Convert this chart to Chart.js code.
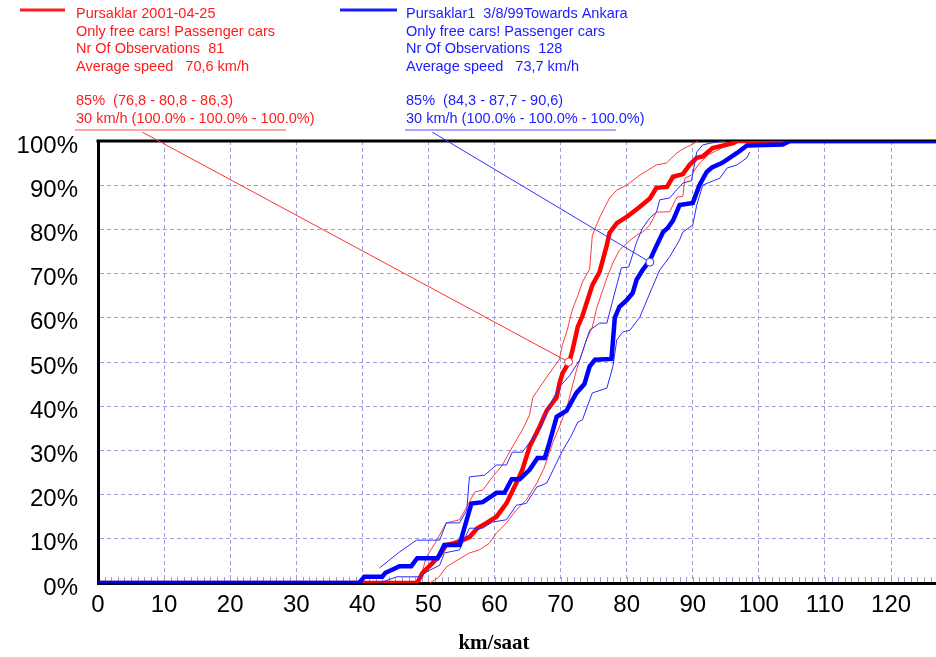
<!DOCTYPE html>
<html>
<head>
<meta charset="utf-8">
<script src="https://cdn.jsdelivr.net/npm/chart.js@4.4.1/dist/chart.umd.min.js"></script>
<style>
  html, body { margin: 0; padding: 0; background: #fff; }
  #wrap { width: 936px; height: 657px; }
</style>
</head>
<body>
<div id="wrap"><canvas id="speedChart" width="936" height="657"></canvas></div>
<script>
// cumulative speed distributions, km/h vs % of observations
const redMainKmh = [0, 48.3, 49.1, 50.6, 51.7, 52.7, 53.9, 55.2, 56.2, 57.4, 58.8, 60.3, 61.8, 63.3, 64.2, 65.3, 66.8, 67.9, 69.4, 69.8, 70.3, 70.9, 71.4, 71.8, 72.6, 73.3, 74.8, 75.9, 77.0, 77.4, 78.5, 80.0, 81.9, 83.5, 84.5, 86.1, 87.0, 88.5, 89.5, 90.6, 91.5, 93.0, 96.1, 96.7, 127];
const redMainPct = [0, 0, 2.3, 4.5, 6.3, 8.6, 9, 9.7, 10.4, 12.4, 13.6, 15, 18, 22.6, 25.6, 30.8, 35.3, 39, 42, 45, 47.5, 49, 50.5, 52.7, 58, 60.4, 67.4, 70.4, 76.5, 79.2, 81.4, 82.8, 85, 87, 89.4, 89.6, 91.9, 92.5, 94.6, 96.2, 96.5, 98.4, 99.5, 100, 100];

const redHighKmh = [48.6, 49.0, 49.7, 51.0, 52.7, 54.7, 55.8, 57.0, 58.2, 59.7, 61.2, 62.7, 64.2, 65.3, 65.8, 67.9, 69.8, 70.3, 71.0, 71.8, 72.6, 73.3, 74.4, 74.8, 76.0, 77.4, 78.5, 80.0, 82.0, 84.5, 86.0, 87.6, 88.5, 90.0, 90.8];
const redHighPct = [1.2, 2.3, 5.9, 9, 13.6, 14.3, 17.2, 20.6, 21, 24, 26.7, 30.8, 34.6, 38, 42, 46.6, 50.5, 54, 57.2, 62, 65, 68.1, 71, 78.7, 83, 87.1, 88.9, 90, 92.3, 94.6, 95, 97.3, 98.2, 99.3, 100];

const redLowKmh = [50.2, 51.5, 52.7, 54.4, 56.2, 57.7, 59.2, 60.3, 61.8, 63.3, 64.8, 66.4, 67.5, 68.8, 69.8, 71.0, 72.4, 73.9, 74.8, 75.5, 77.0, 77.9, 78.9, 80.5, 81.5, 82.4, 83.5, 84.5, 86.5, 87.6, 88.5, 88.8, 89.8, 91.0, 92.5, 94.5, 96.5];
const redLowPct = [0, 1.2, 3.6, 5.2, 6.8, 7.5, 9, 11.3, 13.6, 16.5, 18.8, 22.6, 26, 31.7, 35.3, 40, 48.2, 55, 57.9, 62.4, 69, 72.4, 75.3, 77.5, 78.7, 79.4, 81, 83.9, 84, 87.3, 87.5, 91.6, 92.3, 95, 97, 98.5, 100];

const blueMainKmh = [0, 39.5, 40.3, 43.0, 43.5, 44.5, 45.6, 47.4, 48.3, 51.4, 52.4, 54.7, 56.5, 58.2, 60.3, 61.5, 62.6, 63.8, 65.3, 66.5, 67.6, 68.3, 69.4, 70.9, 72.4, 73.6, 74.4, 75.2, 77.7, 78.2, 78.9, 80.0, 80.9, 81.5, 82.4, 83.5, 84.2, 85.5, 86.2, 87.0, 88.0, 90.0, 91.0, 92.1, 92.9, 94.4, 96.7, 98.2, 103.6, 104.7, 127];
const blueMainPct = [0, 0, 1.4, 1.4, 2.3, 3, 3.8, 3.8, 5.6, 5.6, 8.6, 8.6, 18, 18.3, 20.4, 20.4, 23.5, 23.5, 25.6, 28.3, 28.3, 31.7, 37.6, 39, 43, 45, 49, 50.5, 50.7, 60, 62.5, 64, 65.6, 68.6, 70.8, 73, 75.3, 79.4, 80.3, 82, 85.5, 86, 90, 93, 94, 95, 97.3, 99, 99.2, 100, 100];

const blueHighKmh = [42.6, 45.6, 48.2, 51.7, 52.7, 54.7, 55.8, 56.2, 58.5, 60.3, 61.8, 62.7, 64.2, 65.6, 66.8, 67.9, 69.8, 71.4, 72.9, 73.9, 74.4, 75.9, 77.0, 77.9, 78.6, 79.2, 80.3, 81.5, 82.4, 83.5, 84.5, 85.0, 86.5, 87.3, 88.5, 89.8, 90.6, 91.5, 92.6, 95.0];
const blueHighPct = [3.4, 7, 9.7, 9.7, 13.6, 13.6, 16.5, 24, 24.4, 26.7, 26.7, 29.6, 29.6, 32.4, 34.6, 39, 44.3, 47, 50.5, 55, 57.2, 58.8, 58.8, 64, 68, 71.3, 71.5, 77.1, 80.3, 82.6, 83.9, 86.7, 87.1, 88.5, 90.5, 91, 97.5, 99.1, 99.5, 100];

const blueLowKmh = [42.6, 45.2, 48.6, 50.2, 51.7, 52.4, 54.7, 56.2, 58.2, 59.7, 61.8, 63.3, 64.8, 66.4, 67.9, 69.0, 70.3, 71.5, 72.6, 73.3, 74.4, 74.8, 77.0, 77.9, 78.5, 79.4, 80.5, 82.0, 83.9, 85.0, 86.5, 88.0, 88.5, 90.0, 90.6, 91.5, 92.6, 94.1, 95.2, 96.7, 98.2, 98.6];
const blueLowPct = [0, 1.4, 1.4, 2.9, 4, 6.8, 7.5, 12.4, 12.4, 13.8, 14.3, 17.6, 18, 21.7, 22.6, 26, 30, 33, 36.4, 36.9, 41.4, 43, 44.1, 48.9, 55, 56.8, 57.2, 60.2, 67, 70.8, 73.8, 77.6, 79.4, 81, 85.5, 90, 90.7, 91.6, 93.9, 94.6, 96.2, 97.5];

// pointer from the legend text to the marked point on each curve
const redPointerKmh = [6.7, 71.2];
const redPointerPct = [102, 50];
const bluePointerKmh = [50.6, 83.5];
const bluePointerPct = [102, 72.6];

const xTicksStep = 10;
const yTicksStep = 10;

const redLegend = [
  "Pursaklar 2001-04-25",
  "Only free cars! Passenger cars",
  "Nr Of Observations  81",
  "Average speed   70,6 km/h",
  "85%  (76,8 - 80,8 - 86,3)",
  "30 km/h (100.0% - 100.0% - 100.0%)"
];
const blueLegend = [
  "Pursaklar1  3/8/99Towards Ankara",
  "Only free cars! Passenger cars",
  "Nr Of Observations  128",
  "Average speed   73,7 km/h",
  "85%  (84,3 - 87,7 - 90,6)",
  "30 km/h (100.0% - 100.0% - 100.0%)"
];

const RED = "#ff0000";
const BLUE = "#0000ff";
const GRID = "#9d9dd8";

function toPoints(xs, ys) {
  return xs.map((x, i) => ({ x: x, y: ys[i] }));
}

function curve(xs, ys, color, width) {
  return {
    data: toPoints(xs, ys),
    borderColor: color,
    borderWidth: width,
    pointRadius: 0,
    tension: 0,
    fill: false
  };
}

function pointer(xs, ys, color) {
  return {
    data: toPoints(xs, ys),
    borderColor: color,
    borderWidth: 1,
    backgroundColor: "#ffffff",
    pointBorderColor: color,
    pointBorderWidth: 1,
    pointRadius: [0, 4],
    tension: 0,
    fill: false,
    clip: false
  };
}

// frame, minor ticks, legend block and axis title
const decorPlugin = {
  id: "decor",
  beforeDatasetsDraw(chart) {
    const { ctx, chartArea, scales } = chart;
    ctx.save();
    // minor ticks every km/h
    ctx.strokeStyle = GRID;
    ctx.lineWidth = 1;
    for (let v = 1; v < scales.x.max; v++) {
      const px = Math.round(scales.x.getPixelForValue(v)) + 0.5;
      ctx.beginPath();
      ctx.moveTo(px, chartArea.bottom - 1);
      ctx.lineTo(px, chartArea.bottom - 6);
      ctx.stroke();
    }
    // top frame line
    ctx.strokeStyle = "#000";
    ctx.lineWidth = 3;
    ctx.beginPath();
    ctx.moveTo(chartArea.left - 1.5, chartArea.top);
    ctx.lineTo(chartArea.right, chartArea.top);
    ctx.stroke();
    ctx.restore();
  },
  afterDraw(chart) {
    const { ctx } = chart;
    ctx.save();
    drawLegend(ctx, redLegend, "#ff1c1c", "#ff5050", 20, 65, 76, 286);
    drawLegend(ctx, blueLegend, "#1c1cff", "#5050ff", 340, 397, 406, 616);
    ctx.fillStyle = "#000";
    ctx.font = "bold 21px 'Liberation Serif', 'Times New Roman', serif";
    ctx.textAlign = "center";
    ctx.textBaseline = "alphabetic";
    ctx.fillText("km/saat", 494, 649);
    ctx.restore();
  }
};

function drawLegend(ctx, lines, color, lineColor, x1, x2, tx, ux) {
  ctx.strokeStyle = color;
  ctx.lineWidth = 3;
  ctx.beginPath();
  ctx.moveTo(x1, 10);
  ctx.lineTo(x2, 10);
  ctx.stroke();

  ctx.fillStyle = color;
  ctx.font = "14.5px 'Liberation Sans', Arial, sans-serif";
  ctx.textAlign = "left";
  ctx.textBaseline = "alphabetic";
  const baselines = [18, 35.5, 53, 70.5, 105, 122.5];
  lines.forEach((t, i) => ctx.fillText(t, tx, baselines[i]));

  ctx.strokeStyle = lineColor;
  ctx.lineWidth = 1.2;
  ctx.beginPath();
  ctx.moveTo(tx - 1, 130);
  ctx.lineTo(ux, 130);
  ctx.stroke();
}

const ctx = document.getElementById("speedChart").getContext("2d");

new Chart(ctx, {
  type: "line",
  data: {
    datasets: [
      pointer(bluePointerKmh, bluePointerPct, "#3030ff"),
      pointer(redPointerKmh, redPointerPct, "#ff3030"),
      curve(blueMainKmh, blueMainPct, BLUE, 4.5),
      curve(blueHighKmh, blueHighPct, "#2a2aff", 1),
      curve(blueLowKmh, blueLowPct, "#2a2aff", 1),
      curve(redMainKmh, redMainPct, RED, 4.5),
      curve(redHighKmh, redHighPct, "#ff3a3a", 1),
      curve(redLowKmh, redLowPct, "#ff3a3a", 1)
    ]
  },
  options: {
    responsive: false,
    animation: false,
    devicePixelRatio: 1,
    layout: { autoPadding: false, padding: { top: 141, right: 0, bottom: 0, left: 0 } },
    plugins: {
      legend: { display: false },
      tooltip: { enabled: false },
      title: { display: false }
    },
    scales: {
      x: {
        type: "linear",
        min: 0,
        max: 126.8,
        afterFit: (scale) => {
          scale.height = 74;
          scale.paddingLeft = 0;
          scale.paddingRight = 0;
        },
        grid: { color: GRID, lineWidth: 1, drawTicks: false },
        border: { display: true, color: "#000", width: 3, dash: [4, 3] },
        ticks: {
          stepSize: xTicksStep,
          includeBounds: false,
          padding: 8,
          color: "#000",
          font: { family: "'Liberation Sans', Arial, sans-serif", size: 24 },
          maxRotation: 0,
          autoSkip: false
        }
      },
      y: {
        min: 0,
        max: 100,
        afterFit: (scale) => { scale.width = 98; },
        grid: { color: GRID, lineWidth: 1, drawTicks: false },
        border: { display: true, color: "#000", width: 3, dash: [4, 3] },
        ticks: {
          stepSize: yTicksStep,
          padding: 20,
          color: "#000",
          font: { family: "'Liberation Sans', Arial, sans-serif", size: 24, lineHeight: "10px" },
          callback: (v) => ["", v + "%"]
        }
      }
    }
  },
  plugins: [decorPlugin]
});
</script>
</body>
</html>
